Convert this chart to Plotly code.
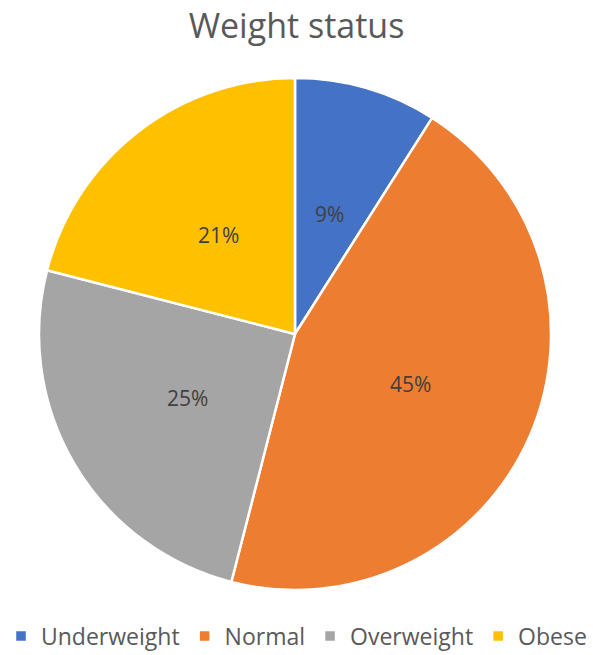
import math
import plotly.graph_objects as go

# Weight status distribution (percent of respondents)
categories = ["Underweight", "Normal", "Overweight", "Obese"]
shares = [9, 45, 25, 21]
colors = ["#4472C4", "#ED7D31", "#A5A5A5", "#FFC000"]

W, H = 593, 655
cx, cy, r = 295, 334, 256          # pie centre and radius in pixels
label_frac = 0.49                  # data labels sit halfway out along each slice

fig = go.Figure(
    go.Pie(
        labels=categories,
        values=shares,
        sort=False,
        direction="clockwise",
        rotation=0,
        marker=dict(colors=colors, line=dict(color="white", width=2.5)),
        textinfo="none",
        hoverinfo="label+percent",
        domain=dict(
            x=[(cx - r) / W, (cx + r) / W],
            y=[(H - cy - r) / H, (H - cy + r) / H],
        ),
    )
)

# Percentage labels placed along each slice's bisector
total = sum(shares)
start = 0.0
for cat, v in zip(categories, shares):
    mid = (start + v / 2) / total * 2 * math.pi
    start += v
    px = cx + label_frac * r * math.sin(mid)
    py = cy - label_frac * r * math.cos(mid)
    fig.add_annotation(
        x=px / W,
        y=1 - py / H,
        xref="paper",
        yref="paper",
        xanchor="center",
        yanchor="middle",
        text=f"{v}%",
        showarrow=False,
        font=dict(family="Open Sans", size=21, color="#404040"),
    )

fig.update_layout(
    width=W,
    height=H,
    margin=dict(l=0, r=0, t=0, b=0, autoexpand=False),
    paper_bgcolor="white",
    title=dict(
        text="Weight status",
        x=0.5,
        xanchor="center",
        y=1 - 26 / H,
        yanchor="middle",
        font=dict(family="Open Sans", size=34, color="#595959"),
    ),
    legend=dict(
        orientation="h",
        x=0.5,
        xanchor="center",
        y=(H - 636) / H,
        yanchor="middle",
        font=dict(family="Open Sans", size=23, color="#595959"),
        itemwidth=30,
    ),
)

fig.write_html("out.html")
